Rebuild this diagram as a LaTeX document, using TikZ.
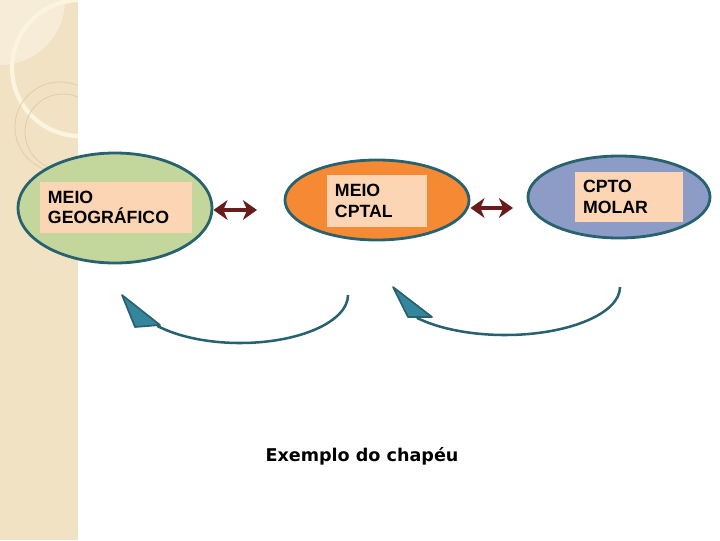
\documentclass[tikz,border=0pt]{standalone}
\usepackage{fontspec}
\setmainfont{Liberation Sans}
\newfontfamily\legendafont{DejaVu Sans}
\usetikzlibrary{shapes.geometric, arrows.meta}

\definecolor{faixa}{RGB}{242,226,196}
\definecolor{faixaclara}{RGB}{246,236,216}
\definecolor{creme}{RGB}{251,244,222}
\definecolor{anel}{RGB}{225,206,170}
\definecolor{contorno}{RGB}{40,98,110}
\definecolor{verde}{RGB}{195,214,155}
\definecolor{laranja}{RGB}{246,138,52}
\definecolor{azul}{RGB}{141,156,198}
\definecolor{pessego}{RGB}{252,213,181}
\definecolor{vinho}{RGB}{104,28,28}
\definecolor{petroleo}{RGB}{52,134,156}

\begin{document}
\begin{tikzpicture}[
  x=0.025cm, y=-0.025cm,
  meio/.style={
    ellipse, draw=contorno, line width=2pt, inner sep=0pt
  },
  rotulo/.style={
    fill=pessego, align=left, anchor=center, inner xsep=0.2cm,
    font=\fontsize{12.6}{14.4}\selectfont\bfseries
  },
  duplo/.style={{Stealth[length=10pt,width=14pt,inset=3pt]}-{Stealth[length=10pt,width=14pt,inset=3pt]},
    line width=3.4pt, draw=vinho},
  volta/.style={draw=contorno, line width=1.8pt},
  ponta/.style={fill=petroleo, draw=contorno, line width=1.2pt, line join=round},
]
\useasboundingbox (0,0) rectangle (720,540);

% Decorative strip on the left
\begin{scope}
  \clip (0,0) rectangle (78,540);
  \fill[faixa] (0,0) rectangle (78,540);
  \fill[faixaclara] (0,0) circle[radius=65*0.025cm];
  \draw[creme, line width=3pt] (80,68) circle[radius=68*0.025cm];
  \draw[anel, line width=0.6pt] (60,127) circle[radius=45*0.025cm];
  \draw[anel, line width=0.6pt] (63,132) circle[radius=38*0.025cm];
\end{scope}

% The three ellipses
\node[meio, fill=verde, minimum width=4.85cm, minimum height=2.75cm] (geo) at (115,208) {};
\node[meio, fill=laranja, minimum width=4.6cm, minimum height=2.0cm] (cptal) at (377,200) {};
\node[meio, fill=azul, minimum width=4.55cm, minimum height=2.05cm] (molar) at (619,197) {};

% Labels
\node[rotulo, text width=3.4cm, minimum height=1.275cm] (geotxt) at (116,207.5) {MEIO\\GEOGRÁFICO};
\node[rotulo, text width=2.1cm, minimum height=1.3cm] (cptaltxt) at (377,201) {MEIO\\CPTAL};
\node[rotulo, text width=2.3cm, minimum height=1.25cm] (molartxt) at (629,197) {CPTO\\MOLAR};

% Double arrows between the ellipses
\coordinate (s1) at (257,210);
\coordinate (s2) at (513,208);
\draw[duplo] (geo.east |- s1) -- (s1);
\draw[duplo] (cptal.east |- s2) -- (s2);

% Curved return arrows
\coordinate (c1) at (348,295);
\coordinate (c2) at (620,287);
\draw[volta] (c1) arc[start angle=0, end angle=140, x radius=108, y radius=48];
\draw[volta] (c2) arc[start angle=0, end angle=140, x radius=115, y radius=48];
\filldraw[ponta] (122,295) -- ++(38,30) -- ++(-25,2) -- cycle;
\filldraw[ponta] (393,287) -- ++(39,30) -- ++(-24,0) -- cycle;

% Caption
\node[font=\legendafont\bfseries\fontsize{12.5}{15}\selectfont] (legenda) at (362,456) {Exemplo do chapéu};

\end{tikzpicture}
\end{document}
